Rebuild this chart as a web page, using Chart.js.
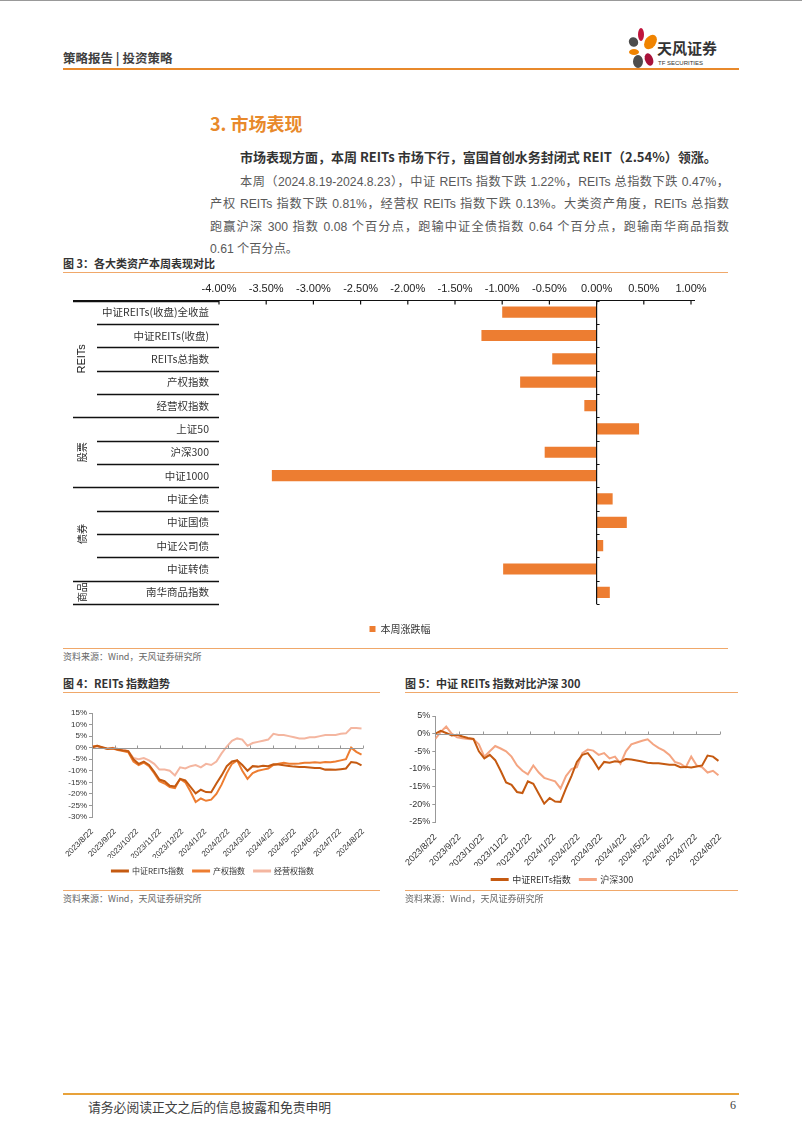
<!DOCTYPE html>
<html>
<head>
<meta charset="utf-8">
<script src="https://cdn.jsdelivr.net/npm/chart.js@4.4.0/dist/chart.umd.min.js"></script>
<style>
  body { margin: 0; background: #fff; font-family: "Noto Sans CJK SC", sans-serif; }
  #page { position: relative; width: 802px; height: 1133px; overflow: hidden; background: #fff; }
  .abs { position: absolute; white-space: nowrap; }
  .hr { position: absolute; height: 1px; }
  .petal { position: absolute; border-radius: 50%; }
  .para { position: absolute; font-size: 12.2px; color: #595959; line-height: 16px; white-space: nowrap;
    font-family: "Liberation Sans", "Noto Sans CJK SC", sans-serif; }
  .just { text-align: justify; text-align-last: justify; white-space: normal; }
  .figt { position: absolute; font-size: 11px; font-weight: 700; color: #333; white-space: nowrap; }
  .src { position: absolute; font-size: 9px; color: #666; white-space: nowrap; }
</style>
</head>
<body>
<div id="page">
  <!-- header -->
  <div class="hr" style="left:0;top:0;width:802px;background:#999;"></div>
  <div class="abs" style="left:63px;top:48px;font-size:12.5px;color:#404040;font-weight:700;">策略报告 | 投资策略</div>
  <div class="hr" style="left:63px;top:68px;width:676px;height:2px;background:#E8892B;"></div>
  <div class="petal" style="left:638px;top:28px;width:6px;height:13px;background:#C0143C;"></div>
  <div class="petal" style="left:645px;top:34px;width:11px;height:16px;background:#F08300;transform:rotate(35deg);"></div>
  <div class="petal" style="left:629px;top:37px;width:9px;height:10px;background:#4D4D4D;transform:rotate(-40deg);"></div>
  <div class="petal" style="left:629px;top:49px;width:10px;height:6px;background:#F08300;"></div>
  <div class="petal" style="left:633px;top:55px;width:10px;height:13px;background:#4D4D4D;"></div>
  <div class="petal" style="left:645px;top:53px;width:8px;height:13px;background:#A8123A;transform:rotate(-20deg);"></div>
  <div class="abs" style="left:657px;top:37px;font-size:15px;color:#333;font-weight:700;">天风证券</div>
  <div class="abs" style="left:658px;top:60px;font-size:6px;color:#333;font-family:'Liberation Sans Narrow','Liberation Sans';">TF SECURITIES</div>

  <!-- section -->
  <div class="abs" style="left:210px;top:110px;font-size:18px;color:#E8892B;font-weight:700;">3. 市场表现</div>
  <div class="para" style="left:240px;top:149px;font-size:13px;color:#333;font-weight:700;font-family:'Noto Sans CJK SC';">市场表现方面，本周 REITs 市场下行，富国首创水务封闭式 REIT（2.54%）领涨。</div>
  <div class="para just" style="left:240px;top:174px;width:489px;">本周（2024.8.19-2024.8.23），中证 REITs 指数下跌 1.22%，REITs 总指数下跌 0.47%，</div>
  <div class="para just" style="left:210px;top:196px;width:519px;">产权 REITs 指数下跌 0.81%，经营权 REITs 指数下跌 0.13%。大类资产角度，REITs 总指数</div>
  <div class="para just" style="left:210px;top:219px;width:519px;">跑赢沪深 300 指数 0.08 个百分点，跑输中证全债指数 0.64 个百分点，跑输南华商品指数</div>
  <div class="para" style="left:210px;top:241px;">0.61 个百分点。</div>

  <!-- figure 3 -->
  <div class="figt" style="left:63px;top:255px;">图 3：各大类资产本周表现对比</div>
  <div class="hr" style="left:63px;top:272px;width:665px;background:#F0A86A;"></div>
  <canvas id="bar" class="abs" width="680" height="368" style="left:63px;top:276px;"></canvas>
  <div class="hr" style="left:63px;top:648px;width:665px;background:#F0A86A;"></div>
  <div class="src" style="left:63px;top:650px;">资料来源：Wind，天风证券研究所</div>

  <!-- figure 4 -->
  <div class="figt" style="left:63px;top:675px;">图 4：REITs 指数趋势</div>
  <div class="hr" style="left:63px;top:692px;width:317px;background:#F0A86A;"></div>
  <canvas id="fig4" class="abs" width="317" height="187" style="left:63px;top:698px;"></canvas>
  <div class="hr" style="left:63px;top:890px;width:317px;background:#F0A86A;"></div>
  <div class="src" style="left:63px;top:892px;">资料来源：Wind，天风证券研究所</div>

  <!-- figure 5 -->
  <div class="figt" style="left:405px;top:675px;">图 5：中证 REITs 指数对比沪深 300</div>
  <div class="hr" style="left:405px;top:692px;width:333px;background:#F0A86A;"></div>
  <canvas id="fig5" class="abs" width="335" height="196" style="left:405px;top:698px;"></canvas>
  <div class="hr" style="left:405px;top:890px;width:333px;background:#F0A86A;"></div>
  <div class="src" style="left:405px;top:892px;">资料来源：Wind，天风证券研究所</div>

  <!-- footer -->
  <div class="hr" style="left:63px;top:1093px;width:676px;height:2px;background:#E8A23A;"></div>
  <div class="abs" style="left:88px;top:1097px;font-size:12.8px;color:#404040;">请务必阅读正文之后的信息披露和免责申明</div>
  <div class="abs" style="left:730px;top:1098px;font-size:12px;color:#404040;font-family:'Liberation Serif';">6</div>
</div>

<script>
// 图3：各大类资产本周涨跌幅（%）
const barLabels = ['中证REITs(收盘)全收益', '中证REITs(收盘)', 'REITs总指数', '产权指数', '经营权指数',
  '上证50', '沪深300', '中证1000', '中证全债', '中证国债', '中证公司债', '中证转债', '南华商品指数'];
const barValues = [-1.00, -1.22, -0.47, -0.81, -0.13, 0.45, -0.55, -3.44, 0.17, 0.32, 0.07, -0.99, 0.14];
const groupNames = ['REITs', '股票', '债券', '商品'];
const groupFirst = [0, 5, 8, 12];
const groupLast = [4, 7, 11, 12];

// 图4/图5：周度数据，自 2023/8/22 起（累计涨跌幅 %）
const firstDay = '2023/8/22';
const monthTicks = ['2023/8/22', '2023/9/22', '2023/10/22', '2023/11/22', '2023/12/22', '2024/1/22',
  '2024/2/22', '2024/3/22', '2024/4/22', '2024/5/22', '2024/6/22', '2024/7/22', '2024/8/22'];
const reitsIdx = [0, 0.8, 0.2, -0.5, -0.3, -0.8, -1.2, -1.5, -5, -7, -6, -7.5, -10.5, -13.8, -14.5, -16.5,
  -16.8, -13.5, -14.2, -17, -19.8, -18.2, -19.2, -19.3, -15.5, -12, -8, -6, -5.5, -7.5, -10, -8, -8.2,
  -7.8, -8, -7.2, -7.3, -7.6, -7.9, -8.2, -8.4, -8.4, -8.6, -8.8, -8.8, -9.5, -9.4, -9.6, -9.3, -9,
  -6.2, -6.5, -7.7];
const chanquanIdx = [0.5, 0.8, 0, -0.6, -0.4, -1, -1.5, -2, -6, -7.5, -6.5, -8, -11, -14.5, -15.5, -17,
  -17.5, -13.5, -15, -19, -23.5, -22, -23, -22.5, -20, -16, -11, -7, -5.5, -10, -13.5, -11, -10, -9.5,
  -9, -7.5, -7, -6.5, -7, -7, -6.8, -6.5, -6.5, -6.3, -6.5, -6.2, -6.3, -6, -5.5, -5, 0, -1.8, -3];
const jingyingIdx = [0.5, 0.5, 0, -0.5, 0, -0.5, -0.8, -1.5, -4.5, -5, -4.5, -5.5, -7, -9.5, -9.5, -10,
  -12, -8.5, -9, -8, -7.5, -8.5, -7, -7.5, -6, -2.5, 0.5, 3, 4, 3.5, 0.8, 2, 2.5, 3, 3.5, 6, 5.5, 5.5,
  5, 4.5, 4, 4, 4.5, 4.5, 5, 5.5, 5.5, 5.5, 6, 6.2, 8.5, 8.5, 8.3];
const hs300 = [-1.5, 0.5, 2, 0, -1, -1.3, -1.5, -1.6, -3, -6.5, -5, -3.5, -4.2, -5, -6.5, -9, -10.5,
  -11.5, -9, -11, -12.5, -13, -13.5, -15.5, -12, -10, -9.5, -5.5, -4.5, -4.8, -6, -5.5, -7, -6.5, -8.5,
  -5, -3, -2.5, -2, -1.6, -3, -4, -4.8, -6, -8, -8.5, -9.5, -6.5, -9, -9.5, -11, -10.5, -11.8];

const dayOf = s => {
  const p = s.split('/').map(Number);
  const q = firstDay.split('/').map(Number);
  return (Date.UTC(p[0], p[1] - 1, p[2]) - Date.UTC(q[0], q[1] - 1, q[2])) / 86400000;
};
const monthDays = monthTicks.map(dayOf);
const weekly = arr => arr.map((v, i) => ({ x: i * 7, y: v }));

//条形图的分隔线、零轴与分组标签
const barDecor = {
  id: 'barDecor',
  afterLayout(chart) {
    // 图例稍向右移，与原图对齐
    chart.legend.left += 18;
    chart.legend.right += 18;
  },
  afterDraw(chart) {
    const { ctx, chartArea: a, scales: { x, y } } = chart;
    const ln = (x1, y1, x2, y2) => { ctx.beginPath(); ctx.moveTo(x1, y1); ctx.lineTo(x2, y2); ctx.stroke(); };
    ctx.save();
    ctx.strokeStyle = '#111';
    ctx.lineWidth = 1.2;
    ln(10, a.top, a.right + 4, a.top);
    x.ticks.forEach(t => { const px = x.getPixelForValue(t.value); ln(px, a.top, px, a.top + 4); });
    const zx = x.getPixelForValue(0);
    ln(zx, a.top, zx, a.bottom);
    const edges = groupLast.map(i => i + 0.5).concat([-0.5]);
    for (let i = -0.5; i <= barLabels.length - 0.5; i++) {
      const py = Math.round(y.getPixelForValue(i)) + 0.5;
      const isGroup = edges.includes(i);
      ctx.lineWidth = 1.6;
      ln(isGroup ? 10 : 34, py, a.left, py);
      ctx.lineWidth = 1;
      ln(zx, py, zx + 3, py);
    }
    ctx.fillStyle = '#222';
    ctx.textAlign = 'center';
    ctx.textBaseline = 'middle';
    groupNames.forEach((g, k) => {
      const cy = (y.getPixelForValue(groupFirst[k]) + y.getPixelForValue(groupLast[k])) / 2;
      ctx.save();
      ctx.translate(19, cy);
      ctx.rotate(-Math.PI / 2);
      ctx.font = g === 'REITs' ? '11px "Liberation Sans"' : '10px "Noto Sans CJK SC"';
      ctx.fillText(g, 0, 0);
      ctx.restore();
    });
    ctx.restore();
  }
};

new Chart(document.getElementById('bar'), {
  type: 'bar',
  data: {
    labels: barLabels,
    datasets: [{
      label: '本周涨跌幅',
      data: barValues,
      backgroundColor: '#ED7D31',
      categoryPercentage: 1,
      barPercentage: 0.48
    }]
  },
  options: {
    indexAxis: 'y',
    responsive: false,
    animation: false,
    layout: { padding: { left: 10, right: 52, top: 0, bottom: 0 } },
    scales: {
      x: {
        position: 'top', min: -4, max: 1,
        ticks: { stepSize: 0.5, callback: v => v.toFixed(2) + '%', color: '#222', padding: 5,
          font: { family: '"Liberation Sans Narrow", "Liberation Sans"', size: 11 } },
        grid: { display: false, drawTicks: false }, border: { display: false },
        afterFit: s => { s.height = 24.5; }
      },
      y: {
        ticks: { color: '#333', padding: 10, font: { family: '"Noto Sans CJK SC"', size: 10.5 } },
        grid: { display: false, drawTicks: false }, border: { display: false },
        afterFit: s => { s.width = 146; }
      }
    },
    plugins: {
      legend: { position: 'bottom', labels: { boxWidth: 6, boxHeight: 6, color: '#333', padding: 20,
        font: { family: '"Noto Sans CJK SC"', size: 10 } } },
      tooltip: { enabled: false }
    }
  },
  plugins: [barDecor]
});

// 零轴及其刻度
const zeroAxis = {
  id: 'zeroAxis',
  afterDatasetsDraw(chart) {
    const { ctx, chartArea: a, scales: { x, y } } = chart;
    const zy = Math.round(y.getPixelForValue(0)) + 0.5;
    ctx.save();
    ctx.strokeStyle = '#999';
    ctx.lineWidth = 1;
    ctx.beginPath();
    ctx.moveTo(a.left, zy); ctx.lineTo(a.right, zy);
    monthDays.forEach(d => { const px = Math.round(x.getPixelForValue(d)) + 0.5; ctx.moveTo(px, zy); ctx.lineTo(px, zy - 3); });
    ctx.stroke();
    ctx.restore();
  }
};

function lineChart(id, sets, yMin, yMax, fs, pad, xh, yw) {
  return new Chart(document.getElementById(id), {
    type: 'line',
    data: {
      datasets: sets.map(s => ({
        label: s.label, data: weekly(s.data), borderColor: s.color, backgroundColor: s.color,
        borderWidth: 2, pointRadius: 0, tension: 0
      }))
    },
    options: {
      responsive: false,
      animation: false,
      layout: { padding: pad },
      scales: {
        x: {
          type: 'linear', min: 0, max: monthDays[monthDays.length - 1],
          afterBuildTicks: s => { s.ticks = monthDays.map(v => ({ value: v })); },
          ticks: { autoSkip: false, minRotation: 45, maxRotation: 45, padding: 2, color: '#333',
            callback: (v, i) => monthTicks[i], font: { family: '"Liberation Sans"', size: fs } },
          grid: { display: false }, border: { display: false },
          afterFit: s => { s.height = xh; }
        },
        y: {
          min: yMin, max: yMax,
          ticks: { stepSize: 5, autoSkip: false, callback: v => v + '%', color: '#333', padding: 2,
            font: { family: '"Liberation Sans"', size: fs } },
          grid: { drawOnChartArea: false, tickLength: 3, color: '#999' },
          border: { display: true, color: '#999' },
          afterFit: s => { s.width = yw; }
        }
      },
      plugins: {
        legend: { position: 'bottom', labels: { boxWidth: 16, boxHeight: 1, color: '#333', padding: 9,
          font: { family: '"Noto Sans CJK SC"', size: fs } } },
        tooltip: { enabled: false }
      }
    },
    plugins: [zeroAxis]
  });
}

lineChart('fig4', [
  { label: '中证REITs指数', data: reitsIdx, color: '#C55A11' },
  { label: '产权指数', data: chanquanIdx, color: '#ED7D31' },
  { label: '经营权指数', data: jingyingIdx, color: '#F4B6A0' }
], -30, 15, 8, { top: 15, right: 17, left: 0, bottom: 0 }, 41, 29);

lineChart('fig5', [
  { label: '中证REITs指数', data: reitsIdx, color: '#C55A11' },
  { label: '沪深300', data: hs300, color: '#F4A582' }
], -25, 5, 9, { top: 18, right: 20, left: 0, bottom: 0 }, 44, 28);
</script>
</body>
</html>
